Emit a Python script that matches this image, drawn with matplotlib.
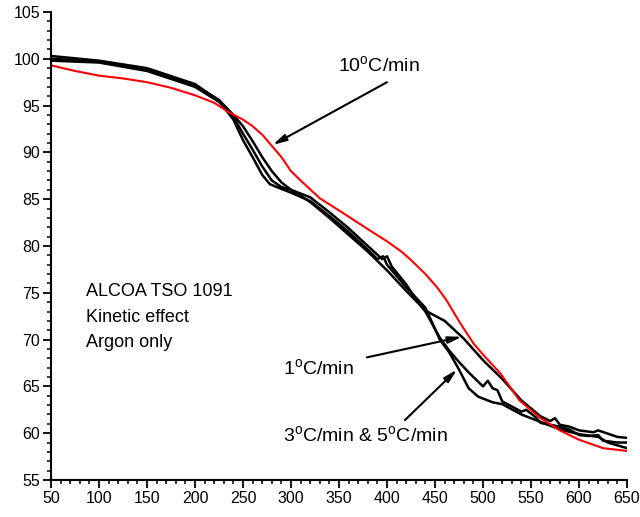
import matplotlib
matplotlib.use("Agg")
import matplotlib.pyplot as plt
from matplotlib.ticker import MultipleLocator

plt.rcParams['font.family'] = ['Liberation Sans', 'DejaVu Sans']
plt.rcParams['mathtext.fontset'] = 'custom'
plt.rcParams['mathtext.rm'] = 'Liberation Sans'
plt.rcParams['mathtext.it'] = 'Liberation Sans'

# 1 C/min
x_1 = [50, 100, 150, 200, 225, 240, 250, 260, 270, 280, 290, 300, 320, 340, 360,
       380, 400, 420, 440, 460, 480, 500, 520, 540, 560, 570, 575, 580, 590, 600, 615, 620, 640, 650]
y_1 = [100.0, 99.7, 98.9, 97.2, 95.6, 94.0, 92.8, 91.2, 89.5, 88.0, 86.8, 86.0, 84.7, 83.0, 81.2,
       79.4, 77.4, 75.2, 73.1, 72.0, 70.1, 67.8, 65.8, 63.5, 61.8, 61.3, 61.6, 60.9, 60.7, 60.3, 60.1, 60.3, 59.6, 59.5]

# 3 C/min
x_3 = [50, 100, 150, 200, 225, 240, 250, 260, 270, 278, 290, 300, 320, 340, 360, 380, 390,
       396, 400, 420, 440, 455, 465, 475, 485, 495, 510, 520, 540, 560, 580, 600, 620, 630, 650]
y_3 = [100.3, 99.8, 99.0, 97.3, 95.5, 93.5, 91.3, 89.5, 87.6, 86.6, 86.1, 85.7, 84.8, 83.2, 81.5, 79.6, 78.6,
       78.9, 78.0, 75.6, 73.4, 70.0, 68.6, 66.8, 64.8, 63.9, 63.3, 63.1, 62.0, 61.2, 60.4, 59.9, 59.6, 59.0, 58.4]

# 5 C/min
x_5 = [50, 100, 150, 200, 225, 240, 250, 260, 270, 280, 290, 300, 320, 340, 360, 380, 395,
       400, 405, 420, 430, 440, 455, 465, 475, 485, 495, 500, 505, 510, 515, 520, 540, 545, 555,
       560, 575, 590, 600, 610, 620, 625, 640, 650]
y_5 = [99.8, 99.6, 98.7, 97.0, 95.4, 93.8, 92.0, 90.3, 88.5, 87.0, 86.3, 86.0, 85.2, 83.6, 81.9, 80.0, 78.6,
       78.9, 77.8, 75.9, 74.3, 73.0, 70.2, 68.8, 67.6, 66.5, 65.5, 65.0, 65.6, 64.8, 64.6, 63.4, 62.3, 62.5, 61.7,
       61.1, 60.8, 60.4, 59.8, 59.7, 59.8, 59.2, 59.0, 59.0]

# 10 C/min
x_10 = [50, 75, 100, 125, 150, 175, 200, 220, 235, 250, 260, 270, 280, 290, 300, 310, 330, 350,
        365, 380, 400, 415, 425, 440, 452, 462, 476, 490, 500, 518, 538, 560, 580, 600, 625, 650]
y_10 = [99.3, 98.7, 98.2, 97.9, 97.5, 96.9, 96.1, 95.3, 94.3, 93.5, 92.8, 91.9, 90.7, 89.5, 88.0, 87.0, 85.1, 83.8,
        82.8, 81.8, 80.5, 79.4, 78.5, 77.0, 75.6, 74.2, 71.8, 69.6, 68.4, 66.4, 63.5, 61.6, 60.3, 59.3, 58.4, 58.1]

fig = plt.figure(figsize=(6.4, 5.17), dpi=100)
ax = fig.add_axes([0.0797, 0.0716, 0.9, 0.9052])

ax.plot(x_1, y_1, color='black', lw=1.8)
ax.plot(x_3, y_3, color='black', lw=1.8)
ax.plot(x_5, y_5, color='black', lw=1.8)
ax.plot(x_10, y_10, color='red', lw=1.5)

ax.set_xlim(50, 650)
ax.set_ylim(55, 105)
ax.xaxis.set_major_locator(MultipleLocator(50))
ax.xaxis.set_minor_locator(MultipleLocator(10))
ax.yaxis.set_major_locator(MultipleLocator(5))
ax.yaxis.set_minor_locator(MultipleLocator(1))
ax.spines['top'].set_visible(False)
ax.spines['right'].set_visible(False)
ax.spines['left'].set_linewidth(1.5)
ax.spines['bottom'].set_linewidth(1.5)
ax.tick_params(which='major', direction='out', length=6, width=1.3, labelsize=11.5, pad=2)
ax.tick_params(which='minor', direction='out', length=3, width=1.1)

ax.text(86.5, 75.1, 'ALCOA TSO 1091', fontsize=13, va='center', ha='left')
ax.text(86.5, 72.4, 'Kinetic effect', fontsize=13, va='center', ha='left')
ax.text(86.5, 69.7, 'Argon only', fontsize=13, va='center', ha='left')

aprops = dict(arrowstyle='-|>,head_width=0.2,head_length=0.8', color='black', lw=1.5,
              shrinkA=0, shrinkB=0)
ax.annotate('', xy=(281, 90.8), xytext=(400, 97.5), arrowprops=aprops)
ax.text(349, 99.3, r'10$^{\mathrm{o}}$C/min', fontsize=14, va='center', ha='left')

ax.annotate('', xy=(478, 70.3), xytext=(379, 68.1), arrowprops=aprops)
ax.text(291.7, 67.0, r'1$^{\mathrm{o}}$C/min', fontsize=14, va='center', ha='left')

ax.annotate('', xy=(473, 66.8), xytext=(418.7, 61.4), arrowprops=aprops)
ax.text(291.7, 59.8, r'3$^{\mathrm{o}}$C/min & 5$^{\mathrm{o}}$C/min', fontsize=14, va='center', ha='left')

fig.savefig('out.png', dpi=100)
